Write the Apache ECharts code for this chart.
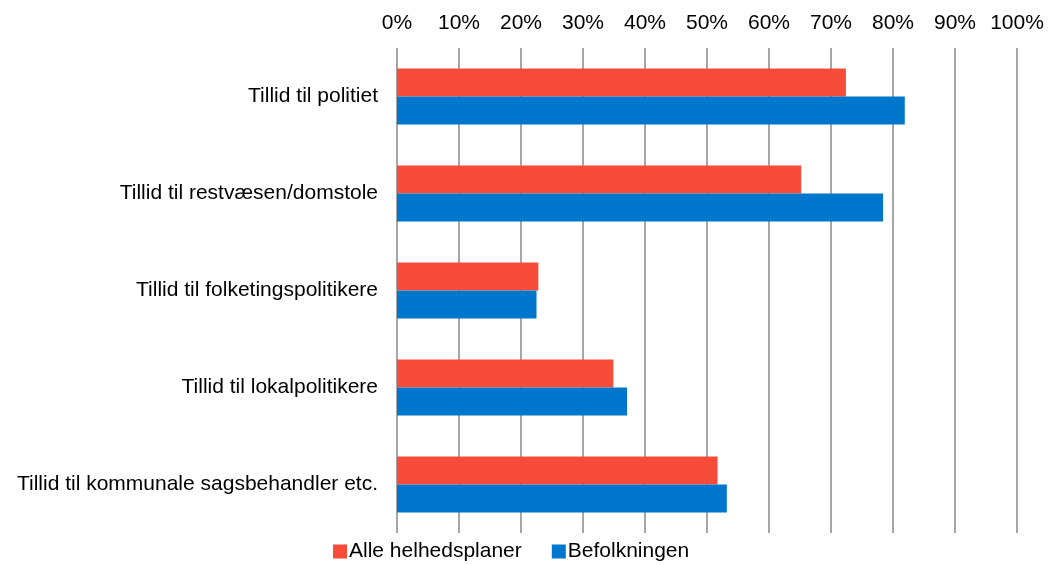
<!DOCTYPE html>
<html>
<head>
<meta charset="utf-8">
<script src="https://cdn.jsdelivr.net/npm/echarts@6/dist/echarts.min.js"></script>
<style>
  html, body { margin: 0; padding: 0; background: #fff; }
  #chart { width: 1048px; height: 565px; }
</style>
</head>
<body>
<div id="chart"></div>
<script>
// Tillid til institutioner, andel i procent
const categories = [
  'Tillid til politiet',
  'Tillid til restvæsen/domstole',
  'Tillid til folketingspolitikere',
  'Tillid til lokalpolitikere',
  'Tillid til kommunale sagsbehandler etc.'
];
const seriesNames = ['Alle helhedsplaner', 'Befolkningen'];
const helhedsplaner = [72.4, 65.2, 22.8, 34.9, 51.7];
const befolkningen = [81.9, 78.4, 22.5, 37.1, 53.2];
const tickValues = [0, 10, 20, 30, 40, 50, 60, 70, 80, 90, 100];

const font = 'Liberation Sans, Arial, sans-serif';

const chart = echarts.init(document.getElementById('chart'));
chart.setOption({
  animation: false,
  backgroundColor: '#ffffff',
  textStyle: { fontFamily: font },
  color: ['#F84C3A', '#0077CC'],
  grid: { left: 397, right: 31, top: 48, bottom: 32, containLabel: false },
  legend: {
    data: seriesNames,
    bottom: -2,
    left: 328,
    itemWidth: 14,
    itemHeight: 14,
    itemGap: 30,
    icon: 'rect',
    textStyle: { fontSize: 21, color: '#000', fontFamily: font, padding: [0, 0, 0, -3] }
  },
  xAxis: {
    type: 'value',
    position: 'top',
    min: tickValues[0],
    max: tickValues[tickValues.length - 1],
    interval: 10,
    axisLine: { show: false },
    axisTick: { show: false },
    axisLabel: {
      formatter: v => v + '%',
      fontSize: 21,
      color: '#000',
      margin: 14
    },
    splitLine: { show: true, lineStyle: { color: '#a6a6a6', width: 2 } }
  },
  yAxis: {
    type: 'category',
    data: categories,
    inverse: true,
    axisLine: { show: false },
    axisTick: { show: false },
    axisLabel: { fontSize: 21, color: '#000', margin: 19 }
  },
  series: [
    {
      name: seriesNames[0],
      type: 'bar',
      data: helhedsplaner,
      barWidth: 28,
      barGap: '0%',
      barCategoryGap: '42%'
    },
    {
      name: seriesNames[1],
      type: 'bar',
      data: befolkningen,
      barWidth: 28,
      barGap: '0%',
      barCategoryGap: '42%'
    }
  ]
});
</script>
</body>
</html>
